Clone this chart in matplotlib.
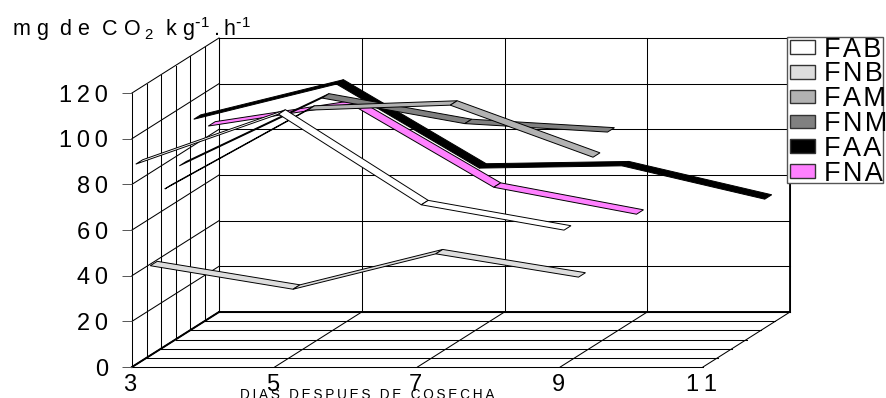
import matplotlib
matplotlib.use("Agg")
import matplotlib.pyplot as plt
from matplotlib.patches import Patch, Polygon, Rectangle
from matplotlib.transforms import ScaledTranslation

plt.rcParams["font.family"] = ["Liberation Sans", "DejaVu Sans"]
plt.rcParams["mathtext.default"] = "regular"

dias = [3, 5, 7, 9, 11]
valores_y = [0, 20, 40, 60, 80, 100, 120]
nombres = ["FAB", "FNB", "FAM", "FNM", "FAA", "FNA"]
colores = ["#FFFFFF", "#DDDDDD", "#B2B2B2", "#808080", "#000000", "#FF80FF"]

fab = [87.8, 109.7, 70.0, 58.9]
fnb = [39.3, 29.0, 44.5, 34.3]
fam = [68.9, 103.4, 105.6, 82.8]
fnm = [75.0, 104.7, 93.5, 89.8]
faa = [91.4, 106.8, 70.0, 71.0, 56.4]
fna = [84.4, 94.0, 57.6, 45.8]
series = [fab, fnb, fam, fnm, faa, fna]

# front plane in pixels, depth goes 87 px right and 55 px up
W, H = 886.0, 398.0
x0, x1, y0, y1 = 132.0, 703.0, 367.0, 93.0
dx = 87.0 * (dias[-1] - dias[0]) / (x1 - x0)
dy = 55.0 * valores_y[-1] / (y0 - y1)
n = len(series)
ancho = 0.08
THIN = "\u2009"
HAIR = "\u200a"


def p(x, v, d):
    return (x + dx * d, v + dy * d)


fig = plt.figure(figsize=(W / 100, H / 100), dpi=100)
ax = fig.add_axes([x0 / W, 1 - y0 / H, (x1 - x0) / W, (y0 - y1) / H])
ax.set_xlim(dias[0], dias[-1])
ax.set_ylim(0, valores_y[-1])
ax.patch.set_visible(False)
for s in ax.spines.values():
    s.set_visible(False)


def linea(a, b, lw=0.75, c="black"):
    ax.plot([a[0], b[0]], [a[1], b[1]], color=c, lw=lw, clip_on=False,
            zorder=1, solid_capstyle="projecting")


# back wall
for v in valores_y:
    linea(p(dias[0], v, 1), p(dias[-1], v, 1))
    linea(p(dias[0], v, 0), p(dias[0], v, 1))
for x in dias:
    linea(p(x, 0, 1), p(x, valores_y[-1], 1))
    linea(p(x, 0, 0), p(x, 0, 1))
# floor and left wall
for i in range(n + 1):
    d = i / n
    linea(p(dias[0], 0, d), p(dias[-1], 0, d))
    linea(p(dias[0], 0, d), p(dias[0], valores_y[-1], d))
linea(p(dias[-1], 0, 1), p(dias[-1], valores_y[-1], 1), lw=1.3)
linea(p(dias[0], 0, 0), p(dias[0], 0, 1), lw=1.4)
linea(p(dias[0], 0, 1), p(dias[-1], 0, 1), lw=1.4)

# ribbons, back one first
for i in range(n - 1, -1, -1):
    d = (i + 0.5) / n
    vals = series[i]
    for j in range(len(vals) - 1):
        a, b = dias[j], dias[j + 1]
        pts = [p(a, vals[j], d - ancho / 2), p(b, vals[j + 1], d - ancho / 2),
               p(b, vals[j + 1], d + ancho / 2), p(a, vals[j], d + ancho / 2)]
        ax.add_patch(Polygon(pts, closed=True, facecolor=colores[i], edgecolor="black",
                             lw=0.7, clip_on=False, zorder=3 + n - i))

ax.set_yticks(valores_y)
ax.set_yticklabels([THIN.join(str(v)) for v in valores_y])
ax.set_xticks(dias)
ax.set_xticklabels([THIN.join(str(v)) for v in dias])
ax.tick_params(axis="y", length=7.2, width=0.7, color="#555555", pad=10, labelsize=17)
ax.tick_params(axis="x", length=0, pad=5, labelsize=17)
for lab in ax.get_xticklabels():
    lab.set_transform(lab.get_transform() + ScaledTranslation(-2 / 100, 0, fig.dpi_scale_trans))
ax.set_xlabel(THIN.join("DIAS DESPUES DE COSECHA"), fontsize=9.8)
ax.xaxis.set_label_coords((367 - x0) / (x1 - x0), -21 / (y0 - y1), transform=ax.transAxes)
ax.xaxis.label.set_va("top")

gap = THIN + HAIR
titulo = gap.join("mg") + "  " + gap.join("de") + "  " + gap.join("CO") + THIN + "$_2$  " \
    + gap.join("kg") + "$^{\\text{-}1}$" + THIN + "." + THIN + "h$^{\\text{-}1}$"
fig.text(12 / W, 1 - 36 / H, titulo, fontsize=15.5, va="baseline")

ax.add_patch(Rectangle((787 / W, 1 - 183 / H), 96 / W, 146 / H, transform=fig.transFigure,
                       facecolor="white", edgecolor="#555555", lw=1, clip_on=False, zorder=19))
handles = [Patch(facecolor=c, edgecolor="#333333", lw=1) for c in colores]
leg = ax.legend(handles, [HAIR.join(t) for t in nombres], loc="upper left",
                bbox_to_anchor=(787 / W, 1 - 34 / H),
                bbox_transform=fig.transFigure, fontsize=19.5, frameon=False,
                borderaxespad=0, borderpad=0.1,
                labelspacing=-0.045, handlelength=0.95, handleheight=0.4, handletextpad=0.3)
leg.set_zorder(20)

fig.savefig("out.png", dpi=100)
